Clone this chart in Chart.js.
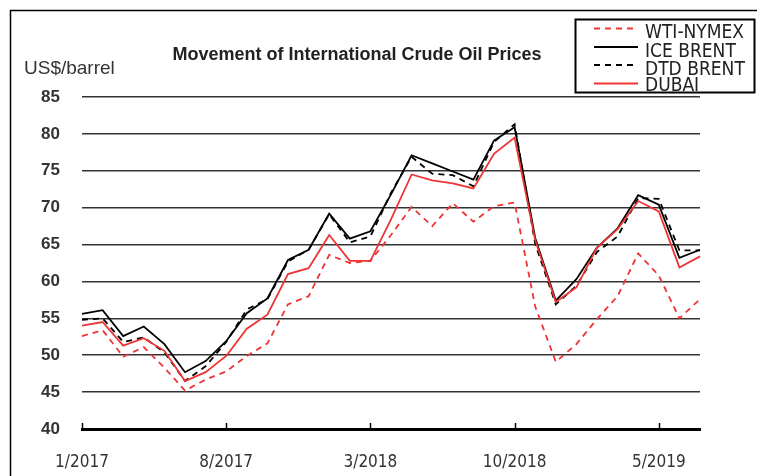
<!DOCTYPE html>
<html>
<head>
<meta charset="utf-8">
<script src="https://cdn.jsdelivr.net/npm/chart.js@4.4.1/dist/chart.umd.min.js"></script>
<style>
  html, body { margin: 0; padding: 0; background: #fff; }
  #wrap { width: 757px; height: 476px; position: relative; }
</style>
</head>
<body>
<div id="wrap"><canvas id="c" width="757" height="476"></canvas></div>
<script>
// Months 1/2017 .. 7/2019
const months = [
  '1/2017','2/2017','3/2017','4/2017','5/2017','6/2017','7/2017','8/2017','9/2017','10/2017','11/2017','12/2017',
  '1/2018','2/2018','3/2018','4/2018','5/2018','6/2018','7/2018','8/2018','9/2018','10/2018','11/2018','12/2018',
  '1/2019','2/2019','3/2019','4/2019','5/2019','6/2019','7/2019'
];
const wtiNymex = [52.6, 53.4, 49.8, 51.1, 48.3, 45.2, 46.7, 47.8, 49.9, 51.6, 56.9, 58.0,
                  63.6, 62.5, 62.8, 66.3, 70.1, 67.5, 70.6, 68.1, 70.2, 70.7, 56.6, 49.1,
                  51.5, 54.9, 58.0, 63.8, 60.8, 55.0, 57.6];
const iceBrent = [55.6, 56.1, 52.6, 53.9, 51.5, 47.7, 49.2, 51.9, 55.7, 57.7, 62.9, 64.3,
                  69.2, 65.8, 66.8, 71.8, 77.1, 76.0, 74.9, 73.8, 79.1, 80.9, 65.9, 57.4,
                  60.3, 64.6, 67.2, 71.7, 70.4, 63.2, 64.3];
const dtdBrent = [54.8, 55.0, 51.8, 52.4, 50.4, 46.5, 48.5, 51.8, 56.2, 57.6, 62.7, 64.3,
                  69.1, 65.3, 66.1, 72.0, 76.9, 74.6, 74.4, 72.9, 78.9, 81.3, 65.1, 56.9,
                  59.4, 64.0, 66.1, 71.3, 71.2, 64.2, 64.2];
const dubai    = [54.0, 54.5, 51.3, 52.3, 50.6, 46.5, 47.7, 49.9, 53.6, 55.5, 61.0, 61.8,
                  66.3, 62.8, 62.8, 68.4, 74.5, 73.7, 73.3, 72.6, 77.3, 79.5, 65.6, 57.2,
                  59.2, 64.6, 67.1, 70.9, 69.5, 61.9, 63.4];
const yTicks = [40, 45, 50, 55, 60, 65, 70, 75, 80, 85];
const labelEvery = 7;
const titleText = 'Movement of International Crude Oil Prices';
const unitText = 'US$/barrel';

const RED = '#ee3434';
const BLACK = '#000000';

const decor = {
  id: 'decor',
  beforeDraw(chart) {
    const ctx = chart.ctx;
    ctx.save();
    ctx.fillStyle = '#fff';
    ctx.fillRect(0, 0, chart.width, chart.height);
    ctx.restore();
  },
  afterDraw(chart) {
    const ctx = chart.ctx;
    const xs = chart.scales.x;
    const area = chart.chartArea;
    ctx.save();
    // outer frame
    ctx.strokeStyle = '#000';
    ctx.lineWidth = 1.5;
    ctx.strokeRect(10.5, 10.5, 800, 520);
    // upward tick marks on x axis
    ctx.lineWidth = 1.5;
    for (let i = 0; i < months.length; i += labelEvery) {
      const x = Math.round(xs.getPixelForValue(i)) + 0.5;
      ctx.beginPath();
      ctx.moveTo(x, area.bottom);
      ctx.lineTo(x, area.bottom - 6);
      ctx.stroke();
    }
    // title
    ctx.fillStyle = '#222';
    ctx.font = 'bold 18px "Liberation Sans", Arial, sans-serif';
    ctx.textAlign = 'center';
    ctx.textBaseline = 'alphabetic';
    ctx.fillText(titleText, 357, 60);
    // unit label
    ctx.font = '19px "Liberation Sans", Arial, sans-serif';
    ctx.textAlign = 'left';
    ctx.fillStyle = '#333';
    ctx.fillText(unitText, 24, 74);
    // legend box
    ctx.strokeStyle = '#000';
    ctx.lineWidth = 2;
    ctx.strokeRect(575.5, 19.5, 179, 73);
    const rowsLine = [28.5, 47, 65, 83.5];
    const rowsText = [38, 56.5, 74.5, 91];
    chart.data.datasets.forEach((ds, k) => {
      ctx.beginPath();
      ctx.strokeStyle = ds.borderColor;
      ctx.lineWidth = 1.8;
      ctx.setLineDash(ds.borderDash || []);
      ctx.moveTo(594, rowsLine[k]);
      ctx.lineTo(638, rowsLine[k]);
      ctx.stroke();
      ctx.setLineDash([]);
      ctx.fillStyle = '#222';
      ctx.font = '19px "Liberation Sans Narrow", "DejaVu Sans Condensed", sans-serif';
      ctx.textAlign = 'left';
      ctx.fillText(ds.label, 645, rowsText[k]);
    });
    ctx.restore();
  }
};

const common = { pointRadius: 0, pointHoverRadius: 0, tension: 0, borderWidth: 1.8, borderJoinStyle: 'miter', fill: false };

new Chart(document.getElementById('c'), {
  type: 'line',
  data: {
    labels: months,
    datasets: [
      Object.assign({ label: 'WTI-NYMEX', data: wtiNymex, borderColor: RED, borderDash: [6, 5], order: 4 }, common),
      Object.assign({ label: 'ICE BRENT', data: iceBrent, borderColor: BLACK, order: 3 }, common),
      Object.assign({ label: 'DTD BRENT', data: dtdBrent, borderColor: BLACK, borderDash: [6, 5], order: 2 }, common),
      Object.assign({ label: 'DUBAI', data: dubai, borderColor: RED, order: 1 }, common)
    ]
  },
  options: {
    responsive: false,
    animation: false,
    events: [],
    layout: { padding: { left: 0, right: 57, top: 97, bottom: 0 } },
    plugins: { legend: { display: false }, title: { display: false }, tooltip: { enabled: false } },
    scales: {
      x: {
        type: 'category',
        offset: false,
        grid: { display: false },
        border: { display: true, color: '#000', width: 3 },
        ticks: {
          autoSkip: false, maxRotation: 0, minRotation: 0, padding: 15,
          color: '#333',
          font: { family: '"Liberation Sans Narrow", "DejaVu Sans Condensed", sans-serif', size: 17 },
          callback: (v, i) => (i % labelEvery === 0 ? months[i] : '')
        },
        afterFit: (s) => { s.height = 47; }
      },
      y: {
        min: yTicks[0], max: yTicks[yTicks.length - 1],
        afterBuildTicks: (s) => { s.ticks = yTicks.map(v => ({ value: v })); },
        grid: { color: '#333', lineWidth: 1.5, drawTicks: false },
        border: { display: false },
        ticks: {
          padding: 22, color: '#333',
          font: { family: '"Liberation Sans", Arial, sans-serif', size: 17, weight: 'bold' }
        },
        afterFit: (s) => { s.width = 82; }
      }
    }
  },
  plugins: [decor]
});
</script>
</body>
</html>
